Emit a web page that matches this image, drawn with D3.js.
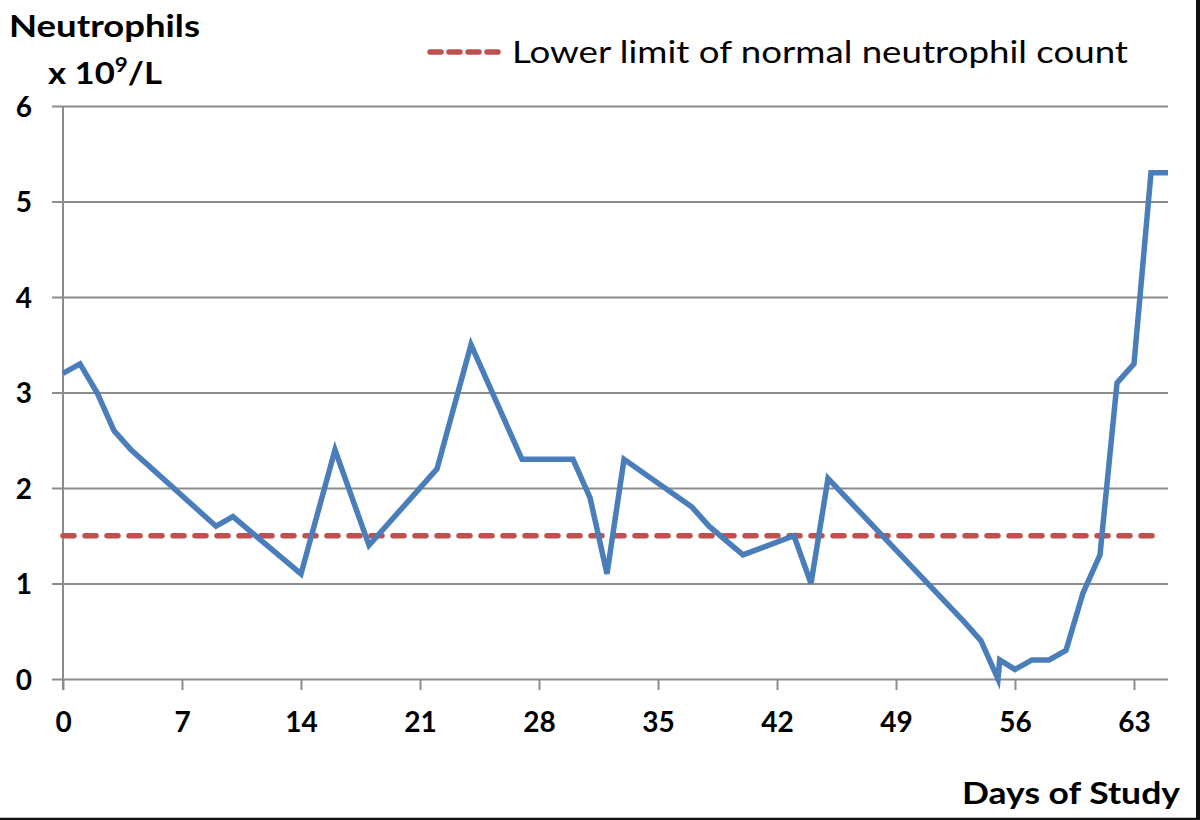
<!DOCTYPE html>
<html>
<head>
<meta charset="utf-8">
<script src="https://cdn.jsdelivr.net/npm/d3@7"></script>
<style>
  html, body { margin: 0; padding: 0; background: #fff; }
  svg { display: block; }
  text { font-family: "Lato", "Open Sans", sans-serif; fill: #000; }
</style>
</head>
<body>
<svg id="chart" width="1200" height="820"></svg>
<script>
// ---- data ----
const days = [0, 1, 2, 3, 4, 9, 10, 14, 16, 18, 22, 24, 27, 30, 31, 32, 33, 37, 38, 40, 43, 44, 45, 53, 54, 55, 55.1, 56, 57, 58, 59, 60, 61, 62, 63, 64, 65];
const neutrophils = [3.2, 3.3, 3.0, 2.6, 2.4, 1.6, 1.7, 1.1, 2.4, 1.4, 2.2, 3.5, 2.3, 2.3, 1.9, 1.1, 2.3, 1.8, 1.6, 1.3, 1.5, 1.0, 2.1, 0.6, 0.4, 0.0, 0.2, 0.1, 0.2, 0.2, 0.3, 0.9, 1.3, 3.1, 3.3, 5.3, 5.3];
const lowerLimit = 1.5;
const lowerLimitDays = [0, 64.5];
const xTicks = [0, 7, 14, 21, 28, 35, 42, 49, 56, 63];
const yTicks = [0, 1, 2, 3, 4, 5, 6];
const legendLabel = "Lower limit of normal neutrophil count";
const xTitle = "Days of Study";
const yTitle = "Neutrophils";

// ---- layout ----
const svg = d3.select("#chart");
const x = d3.scaleLinear().domain([0, 65]).range([63, 1168]);
const y = d3.scaleLinear().domain([0, 6]).range([679, 106]);
const gridColor = "#8c8c8c";

// frame edges (right & bottom shadow)
svg.append("line").attr("x1", 0).attr("x2", 1200).attr("y1", 819).attr("y2", 819)
  .attr("stroke", "#111").attr("stroke-width", 2.5);
svg.append("line").attr("x1", 1198).attr("x2", 1198).attr("y1", 0).attr("y2", 820)
  .attr("stroke", "#111").attr("stroke-width", 4);

// horizontal gridlines + y tick labels
const yAxis = d3.axisLeft(y).tickValues(yTicks).tickSize(-(x.range()[1] - x.range()[0])).tickSizeOuter(0)
  .tickPadding(0).tickFormat(d3.format("d"));
const gy = svg.append("g").attr("transform", `translate(${x(0)},0)`).call(yAxis);
gy.select(".domain").remove();
gy.selectAll(".tick line").attr("stroke", gridColor).attr("stroke-width", 2).attr("x1", -11);
gy.selectAll(".tick text").attr("x", -31).attr("dy", "0.36em")
  .attr("font-size", 28).attr("font-weight", "bold").attr("text-anchor", "end")
  .attr("font-family", "Lato, sans-serif");

// vertical axis line
svg.append("line").attr("x1", x(0)).attr("x2", x(0)).attr("y1", y(6)).attr("y2", y(0) + 11)
  .attr("stroke", gridColor).attr("stroke-width", 2);

// x axis
const xAxis = d3.axisBottom(x).tickValues(xTicks).tickSize(11).tickSizeOuter(0)
  .tickFormat(d3.format("d"));
const gx = svg.append("g").attr("transform", `translate(0,${y(0)})`).call(xAxis);
gx.select(".domain").remove();
gx.selectAll(".tick line").attr("stroke", gridColor).attr("stroke-width", 2);
gx.selectAll(".tick text").attr("font-size", 28).attr("font-weight", "bold")
  .attr("font-family", "Lato, sans-serif").attr("y", 53).attr("dy", 0);

// lower limit dashed line
svg.append("line")
  .attr("x1", x(lowerLimitDays[0])).attr("x2", x(lowerLimitDays[1]))
  .attr("y1", y(lowerLimit)).attr("y2", y(lowerLimit))
  .attr("stroke", "#c0504d").attr("stroke-width", 5.5)
  .attr("stroke-dasharray", "11 11").attr("stroke-linecap", "round");

// neutrophil line
const pts = days.map((d, i) => [d, neutrophils[i]]);
svg.append("path").datum(pts)
  .attr("d", d3.line().x(d => x(d[0])).y(d => y(d[1])))
  .attr("fill", "none").attr("stroke", "#4a7ebb").attr("stroke-width", 5.5)
  .attr("stroke-linejoin", "miter").attr("stroke-linecap", "butt");

// legend
svg.append("line").attr("x1", 430).attr("x2", 500).attr("y1", 52).attr("y2", 52)
  .attr("stroke", "#c0504d").attr("stroke-width", 5.5)
  .attr("stroke-dasharray", "11 8").attr("stroke-linecap", "round");
svg.append("text").attr("x", 512).attr("y", 63).attr("font-size", 31)
  .attr("textLength", 616).attr("lengthAdjust", "spacingAndGlyphs").text(legendLabel);

// y title
svg.append("text").attr("x", 9).attr("y", 37).attr("font-size", 31).attr("font-weight", "bold")
  .attr("textLength", 191).attr("lengthAdjust", "spacingAndGlyphs").text(yTitle);
const unit = svg.append("text").attr("x", 48).attr("y", 84).attr("font-size", 31).attr("font-weight", "bold")
  .attr("textLength", 114).attr("lengthAdjust", "spacingAndGlyphs");
unit.append("tspan").text("x 10");
unit.append("tspan").attr("font-size", 20).attr("dy", -12).text("9");
unit.append("tspan").attr("dy", 12).text("/L");

// x title
svg.append("text").attr("x", 1180).attr("y", 804).attr("font-size", 31).attr("font-weight", "bold")
  .attr("text-anchor", "end").attr("textLength", 218).attr("lengthAdjust", "spacingAndGlyphs").text(xTitle);
</script>
</body>
</html>
